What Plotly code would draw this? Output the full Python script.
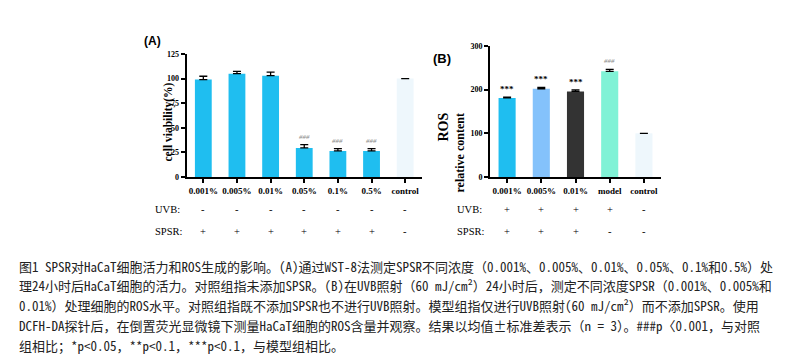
import plotly.graph_objects as go

# ---- data ----
a_cats = ["0.001%", "0.005%", "0.01%", "0.05%", "0.1%", "0.5%", "control"]
a_vals = [99, 105, 103, 29.5, 26.5, 26.5, 100]
a_err = [3.4, 2.4, 3.5, 3.5, 2.3, 2.3, 0]
a_marks = ["", "", "", "###", "###", "###", ""]
a_uvb = ["-", "-", "-", "-", "-", "-", "-"]
a_spsr = ["+", "+", "+", "+", "+", "+", "-"]

b_cats = ["0.001%", "0.005%", "0.01%", "model", "control"]
b_vals = [181, 202, 196, 242, 100]
b_err = [2, 3, 3.5, 4.5, 0]
b_marks = ["***", "***", "***", "###", ""]
b_uvb = ["+", "+", "+", "+", "-"]
b_spsr = ["+", "+", "+", "-", "-"]

caption_lines = [
    "图1 SPSR对HaCaT细胞活力和ROS生成的影响。(A)通过WST-8法测定SPSR不同浓度（0.001%、0.005%、0.01%、0.05%、0.1%和0.5%）处",
    "理24小时后HaCaT细胞的活力。对照组指未添加SPSR。(B)在UVB照射（60 mJ/cm²）24小时后，测定不同浓度SPSR（0.001%、0.005%和",
    "0.01%）处理细胞的ROS水平。对照组指既不添加SPSR也不进行UVB照射。模型组指仅进行UVB照射(60 mJ/cm²）而不添加SPSR。使用",
    "DCFH-DA探针后，在倒置荧光显微镜下测量HaCaT细胞的ROS含量并观察。结果以均值±标准差表示（n = 3）。###p〈0.001，与对照",
    "组相比；*p<0.05，**p<0.1，***p<0.1，与模型组相比。",
]

# ---- styles ----
a_colors = ["#1fbef0"] * 6 + ["#eef7fc"]
b_colors = ["#1fbef0", "#84c2fb", "#333333", "#80f2d6", "#eef7fc"]
SERIF = "Liberation Serif, Times New Roman, serif"
CJK = "Noto Sans Mono CJK SC, Noto Sans CJK SC, sans-serif"

fig = go.Figure()
fig.add_trace(go.Bar(
    x=a_cats, y=a_vals, marker=dict(color=a_colors, line=dict(width=0)), width=0.5,
    error_y=dict(type="data", symmetric=False, array=a_err, arrayminus=[0] * len(a_err),
                 color="black", thickness=1.3, width=4),
    xaxis="x", yaxis="y", showlegend=False))
fig.add_trace(go.Bar(
    x=b_cats, y=b_vals, marker=dict(color=b_colors, line=dict(width=0)), width=0.5,
    error_y=dict(type="data", symmetric=False, array=b_err, arrayminus=[0] * len(b_err),
                 color="black", thickness=1.3, width=4),
    xaxis="x2", yaxis="y2", showlegend=False))

axis_common = dict(showline=True, linecolor="black", linewidth=2, ticks="outside",
                   ticklen=4, tickwidth=1.5, tickcolor="black", showgrid=False,
                   zeroline=False, tickfont=dict(family=SERIF, size=9, color="black", weight="bold"))
ytick_font = dict(family=SERIF, size=8, color="black", weight="bold")

H = 359.0
W = 800.0
fig.update_layout(
    width=800, height=359, margin=dict(l=0, r=0, t=0, b=0, autoexpand=False),
    paper_bgcolor="white", plot_bgcolor="white", bargap=0.5,
    xaxis=dict(domain=[186.5 / W, 422 / W], anchor="y", type="category",
               range=[-0.5, 6.5], **axis_common),
    yaxis=dict(domain=[1 - 177 / H, 1 - 54 / H], anchor="x", range=[0, 125],
               tickvals=[0, 25, 50, 75, 100, 125], **{**axis_common, "tickfont": ytick_font}),
    xaxis2=dict(domain=[490 / W, 661 / W], anchor="y2", type="category",
                range=[-0.5, 4.5], **axis_common),
    yaxis2=dict(domain=[1 - 177 / H, 1 - 46 / H], anchor="x2", range=[0, 300],
                tickvals=[0, 100, 200, 300], **{**axis_common, "tickfont": ytick_font}),
)

ann = []
# significance marks
for c, v, e, m in zip(a_cats, a_vals, a_err, a_marks):
    if m:
        ann.append(dict(x=c, y=v + e, xref="x", yref="y", text=m, showarrow=False,
                        yanchor="bottom", yshift=2,
                        font=dict(family=SERIF, size=7, color="#888888", style="italic")))
for c, v, e, m in zip(b_cats, b_vals, b_err, b_marks):
    if m:
        grey = m.startswith("#")
        ann.append(dict(x=c, y=v + e, xref="x2", yref="y2", text=m, showarrow=False,
                        yanchor="bottom", yshift=1 if not grey else 2,
                        font=dict(family=SERIF, size=9 if not grey else 7,
                                  color="#888888" if grey else "black",
                                  style="italic" if grey else "normal",
                                  weight="normal" if grey else "bold")))

# UVB / SPSR rows
for xr, cats, uvb, spsr, lx in (("x", a_cats, a_uvb, a_spsr, 153), ("x2", b_cats, b_uvb, b_spsr, 455)):
    for lbl, yy in (("UVB:", 209), ("SPSR:", 231)):
        ann.append(dict(x=lx / W, y=1 - yy / H, xref="paper", yref="paper", text=lbl,
                        showarrow=False, xanchor="left", yanchor="middle",
                        font=dict(family=SERIF, size=10.5, color="black")))
    for c, u, s in zip(cats, uvb, spsr):
        for sym, yy in ((u, 209), (s, 231)):
            ann.append(dict(x=c, y=1 - yy / H, xref=xr, yref="paper", text=sym,
                            showarrow=False, yanchor="middle",
                            font=dict(family=SERIF, size=10.5, color="black")))

# panel labels and axis titles
ann.append(dict(x=162 / W, y=1 - 49 / H, xref="paper", yref="paper", text="<b>(A)</b>",
                showarrow=False, xanchor="right", yanchor="bottom", borderpad=0,
                font=dict(family="Liberation Sans, Arial", size=12, color="black")))
ann.append(dict(x=442 / W, y=1 - 49 / H, xref="paper", yref="paper", text="<b>(B)</b>",
                showarrow=False, font=dict(family="Liberation Sans, Arial", size=13, color="black")))
ann.append(dict(x=160 / W, y=1 - 122 / H, xref="paper", yref="paper", text="<b>cell viability(%)</b>",
                textangle=-90, showarrow=False, font=dict(family=SERIF, size=11.5, color="black")))
ann.append(dict(x=443 / W, y=1 - 111 / H, xref="paper", yref="paper", text="<b>ROS</b>",
                textangle=-90, showarrow=False, font=dict(family=SERIF, size=14, color="black")))
ann.append(dict(x=459 / W, y=1 - 112 / H, xref="paper", yref="paper", text="<b>relative content</b>",
                textangle=-90, showarrow=False, font=dict(family=SERIF, size=12, color="black")))

# caption
for i, line in enumerate(caption_lines):
    ann.append(dict(x=17 / W, y=1 - (266 + i * 19.8) / H, xref="paper", yref="paper", text=line,
                    showarrow=False, xanchor="left", yanchor="middle",
                    font=dict(family=CJK, size=13, color="#222222")))

fig.update_layout(annotations=ann)
fig.write_html("out.html", config={"displayModeBar": False},
               post_script="document.body.style.margin='0px';")
